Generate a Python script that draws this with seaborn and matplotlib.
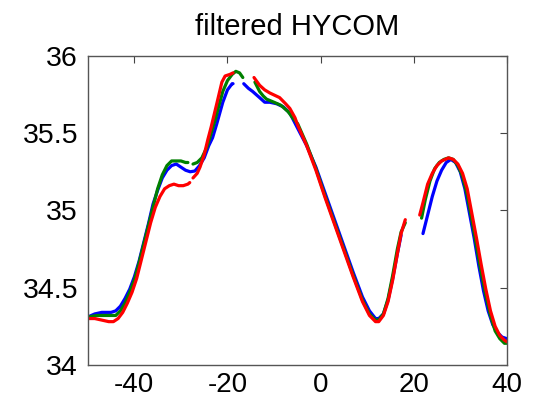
import numpy as np
import pandas as pd
import matplotlib
matplotlib.use('Agg')
import matplotlib.pyplot as plt
import seaborn as sns

sns.set_style('white')
plt.rcParams['font.family'] = ['Liberation Sans', 'DejaVu Sans']
plt.rcParams['text.color'] = 'black'

nan = np.nan

title = "filtered HYCOM"
x_ticks = [-40, -20, 0, 20, 40]
x_tick_labels = ["-40", "-20", "0", "20", "40"]
y_ticks = [34, 34.5, 35, 35.5, 36]
y_tick_labels = ["34", "34.5", "35", "35.5", "36"]

blue_x = [-50, -48.5, -47, -45, -44, -43, -42, -41, -40, -39, -38, -37, -36, -35, -34, -33,
          -32, -31, -30, -29, -28, -27, -26, -25, -24, -23.2, -22.3, -21, -20, -19, -18.8,
          nan,
          -16.5, -15.5, -14.6, -13.1, -12, -10.9, -9.4, -8, -6.6, -4.9, -3, -1, 1, 3, 5, 7, 9,
          10.5, 11.8, 12.5, 13.5, 14.5, 15.5, 16.5, 17.3,
          nan,
          22, 23, 24, 25, 26, 27, 28, 29, 30, 31, 32, 33, 34, 35, 36, 37, 38, 39, 40]
blue_y = [34.31, 34.33, 34.34, 34.34, 34.35, 34.38, 34.43, 34.49, 34.57, 34.67, 34.79, 34.91, 35.04, 35.13, 35.21, 35.26,
          35.29, 35.30, 35.28, 35.26, 35.25, 35.255, 35.29, 35.34, 35.42, 35.47, 35.56, 35.70, 35.78, 35.82, 35.82,
          nan,
          35.82, 35.79, 35.77, 35.73, 35.70, 35.70, 35.69, 35.67, 35.63, 35.53, 35.42, 35.28, 35.11, 34.94, 34.77, 34.60, 34.44,
          34.35, 34.30, 34.30, 34.33, 34.42, 34.56, 34.72, 34.84,
          nan,
          34.85, 34.97, 35.09, 35.19, 35.26, 35.31, 35.33, 35.31, 35.25, 35.14, 34.98, 34.82, 34.64, 34.48, 34.35, 34.26, 34.21, 34.18, 34.17]

green_x = [-50, -48, -46, -44, -43, -42, -41, -40, -39, -38, -37, -36, -35, -34, -33, -32, -31, -30, -29, -28.5,
           nan,
           -27.4, -26.5, -25.5, -24.4, -23.5, -22.5, -22, -21, -20, -19, -18.2, -17.4, -16.7,
           nan,
           -14.1, -13.1, -12.3, -11.6, -10, -8.5, -7, -6, -4.9, -3, -1, 1, 3, 5, 7, 9,
           10.5, 11.8, 12.5, 13.5, 14.5, 15.5, 16.5, 17.3, 18.2,
           nan,
           21.7, 22.5, 23.5, 24.5, 25.5, 26.5, 27.5, 28.5, 29.5, 30.5, 31.5, 32.5, 33.5, 34.5, 35.5, 36.5, 37.5, 38.5, 39.5, 40]
green_y = [34.31, 34.32, 34.32, 34.32, 34.35, 34.40, 34.47, 34.55, 34.66, 34.78, 34.90, 35.02, 35.14, 35.23, 35.29, 35.32, 35.32, 35.32, 35.31, 35.31,
           nan,
           35.30, 35.31, 35.34, 35.41, 35.50, 35.60, 35.66, 35.77, 35.84, 35.88, 35.90, 35.89, 35.86,
           nan,
           35.83, 35.77, 35.74, 35.72, 35.70, 35.68, 35.64, 35.60, 35.56, 35.43, 35.27, 35.09, 34.92, 34.75, 34.58, 34.42,
           34.33, 34.29, 34.29, 34.33, 34.43, 34.58, 34.75, 34.86, 34.92,
           nan,
           34.95, 35.07, 35.19, 35.27, 35.31, 35.33, 35.34, 35.33, 35.29, 35.22, 35.10, 34.94, 34.77, 34.60, 34.45, 34.32, 34.22, 34.17, 34.14, 34.14]

red_x = [-50, -48.5, -47, -45.5, -44.5, -43.5, -42.5, -41.5, -40.5, -39.5, -38.5, -37.5, -36.5, -35.5, -34.5, -33.5,
         -32.5, -31.5, -30.5, -29.5, -28.5, -28.1,
         nan,
         -27.4, -26.5, -25.9, -25, -24.2, -23.5, -22.3, -21.2, -20.5, -19.5, -18.8,
         nan,
         -14.3, -13.1, -12, -10.9, -8.8, -7.5, -6.6, -5.5, -4.9, -3, -1, 1, 3, 5, 7, 9,
         10.5, 11.8, 12.5, 13.5, 14.5, 15.5, 16.5, 17.3, 18.2,
         nan,
         21.3, 22, 23, 24, 25, 26, 27.5, 28.5, 29.5, 30.5, 31.5, 32.5, 33.5, 34.5, 35.5, 36.5, 37.5, 38.5, 39.5, 40]
red_y = [34.30, 34.30, 34.29, 34.28, 34.28, 34.30, 34.34, 34.40, 34.47, 34.56, 34.68, 34.80, 34.92, 35.02, 35.09, 35.14,
         35.16, 35.17, 35.16, 35.16, 35.17, 35.18,
         nan,
         35.21, 35.24, 35.28, 35.36, 35.46, 35.54, 35.69, 35.83, 35.87, 35.88, 35.89,
         nan,
         35.86, 35.81, 35.78, 35.76, 35.73, 35.69, 35.66, 35.60, 35.55, 35.42, 35.26, 35.08, 34.91, 34.74, 34.57, 34.41,
         34.32, 34.28, 34.28, 34.32, 34.41, 34.55, 34.72, 34.85, 34.94,
         nan,
         34.97, 35.05, 35.17, 35.24, 35.29, 35.32, 35.34, 35.33, 35.30, 35.24, 35.14, 34.98, 34.82, 34.65, 34.49, 34.35, 34.25, 34.19, 34.16, 34.15]

series = [("blue", blue_x, blue_y, (0, 0, 1)),
          ("green", green_x, green_y, (0, 0.5, 0)),
          ("red", red_x, red_y, (1, 0, 0))]


def to_frame(name, xs, ys):
    rows = []
    seg = 0
    for x, y in zip(xs, ys):
        if np.isnan(x):
            seg += 1
            continue
        rows.append((name, f"{name}{seg}", x, y))
    return pd.DataFrame(rows, columns=["series", "segment", "x", "y"])


fig = plt.figure(figsize=(5.42, 4.05), dpi=100)
ax = fig.add_axes([0.162, 0.099, 0.773, 0.763])

for name, xs, ys, col in series:
    df = to_frame(name, xs, ys)
    sns.lineplot(data=df, x="x", y="y", units="segment", estimator=None, sort=False,
                 color=col, linewidth=2.3, ax=ax, legend=False)

ax.set_xlim(-50, 40)
ax.set_ylim(34, 36)
ax.set_xticks(x_ticks)
ax.set_xticklabels(x_tick_labels)
ax.set_yticks(y_ticks)
ax.set_yticklabels(y_tick_labels)
ax.set_xlabel("")
ax.set_ylabel("")
ax.tick_params(direction="in", top=True, right=True, length=5, width=0.8,
               labelsize=20.5, color="#444444", labelcolor="black")
ax.tick_params(axis="x", pad=5, labelsize=20)
ax.tick_params(axis="y", pad=7)
for s in ax.spines.values():
    s.set_color("#555555")
    s.set_linewidth(1.0)
ax.set_title(title, fontsize=21, pad=15, color="black")

fig.savefig("out.png", dpi=100)
